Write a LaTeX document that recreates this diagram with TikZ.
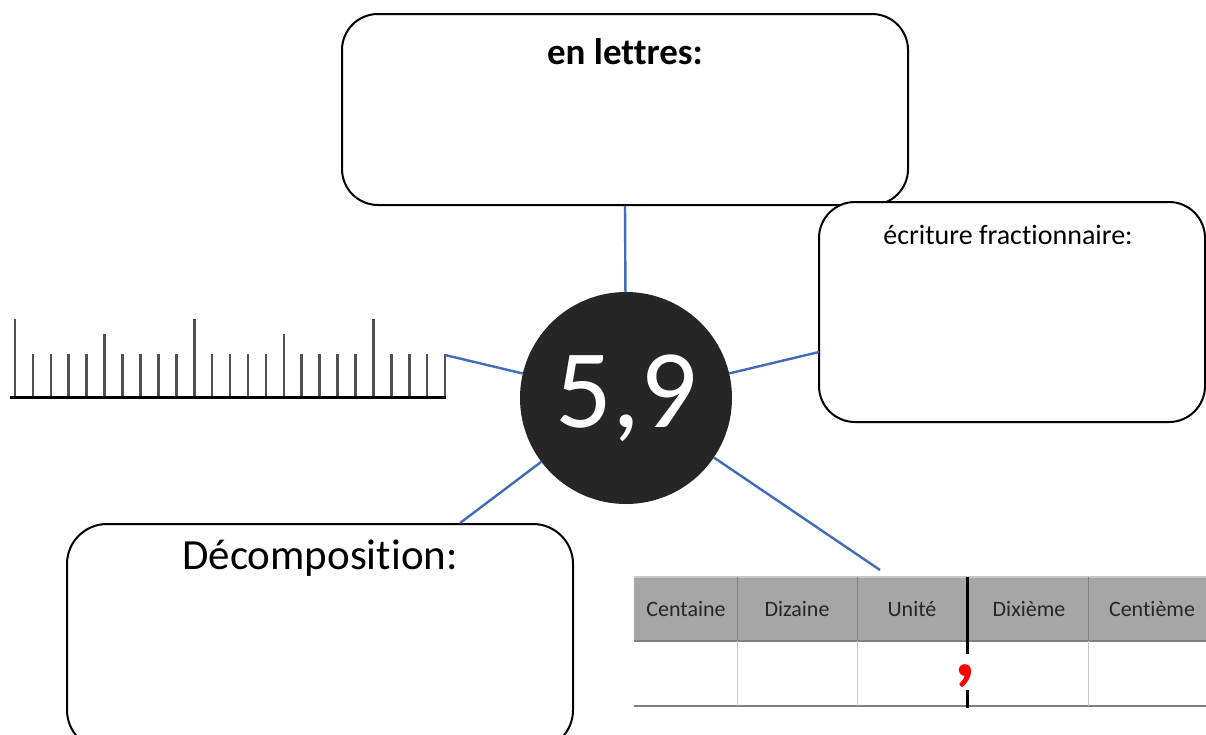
\documentclass[tikz,border=0pt]{standalone}
\usepackage{fontspec}
\setmainfont{Carlito}[Ligatures=NoCommon]
\definecolor{conncol}{RGB}{64,108,186}
\definecolor{circfill}{RGB}{38,38,38}
\definecolor{hdrfill}{RGB}{166,166,166}
\definecolor{hdrline}{RGB}{128,128,128}
\definecolor{bodyline}{RGB}{200,200,200}
\definecolor{tickcol}{RGB}{80,80,80}
\tikzset{
  rbox/.style={draw=black, line width=2pt, rounded corners=36pt, fill=white, inner sep=0pt},
  conn/.style={draw=conncol, line width=2.4pt},
  lbl/.style={inner sep=0pt, text=black},
  hdrtxt/.style={inner sep=0pt, text=black!85, font=\fontsize{22}{26}\selectfont},
}
\begin{document}
\begin{tikzpicture}[x=1pt,y=-1pt]
\clip (0,0) rectangle (1206,734);
\fill[white] (0,0) rectangle (1206,734);
% boxes
\node[rbox, minimum width=566pt, minimum height=191pt] (top) at (625,109.5) {};
\node[rbox, minimum width=386pt, minimum height=220pt] (right) at (1012,312) {};
\node[rbox, minimum width=506pt, minimum height=226pt, rounded corners=40pt] (dec) at (320,637) {};
\node[lbl, font=\bfseries\fontsize{37}{42}\selectfont] (toplbl) at (625,52) {en lettres:};
\node[lbl, font=\fontsize{28}{32}\selectfont] (rightlbl) at (1008,235) {écriture fractionnaire:};
\node[lbl, font=\fontsize{43}{48}\selectfont] (declbl) at (320,558) {Décomposition:};
% circle
\node[circle, fill=circfill, minimum size=212pt, inner sep=0pt, text=white,
      font=\fontsize{112}{114}\selectfont] (c) at (626,398) {5,9};
% ruler
\draw[black, line width=3pt] (10,397) -- (446,397);
\foreach \i in {0,...,24}{
  \pgfmathtruncatemacro{\mten}{mod(\i,10)}
  \pgfmathtruncatemacro{\mfive}{mod(\i,5)}
  \pgfmathsetmacro{\tx}{15+\i*17.92}
  \ifnum\mten=0 \def\ty{319}\else\ifnum\mfive=0 \def\ty{334}\else\def\ty{354}\fi\fi
  \draw[tickcol, line width=2.6pt] (\tx,396) -- (\tx,\ty);
}
\coordinate (rulerend) at (445,355);
% table
\fill[hdrfill] (634,577) rectangle (1206,641);
\draw[bodyline, line width=1.2pt] (634,577) -- (1206,577);
\draw[hdrline, line width=1.2pt] (634,641) -- (1206,641);
\draw[hdrline, line width=1.5pt] (634,706) -- (1206,706);
\foreach \vx in {737,857,1088}{
  \draw[hdrline, line width=1pt] (\vx,577) -- (\vx,641);
  \draw[bodyline, line width=1pt] (\vx,641) -- (\vx,706);
}
\draw[black, line width=3pt] (967,577) -- (967,654);
\draw[black, line width=3pt] (967,690) -- (967,708);
\node[hdrtxt] (h1) at (686,609) {Centaine};
\node[hdrtxt] (h2) at (797,609) {Dizaine};
\node[hdrtxt] (h3) at (912,609) {Unité};
\node[hdrtxt] (h4) at (1029,609) {Dixième};
\node[hdrtxt] (h5) at (1152,609) {Centième};
\node[inner sep=0pt, anchor=base, text=red, font=\bfseries\fontsize{84}{84}\selectfont] (comma) at (965,676) {,};
% connector end points
\coordinate (rc) at (819,352);
\coordinate (dc) at (460,523);
\coordinate (tc) at (880,570);
% connectors
\draw[conn] (top.south) -- (c);
\draw[conn] (rulerend) -- (c);
\draw[conn] (c) -- (rc);
\draw[conn] (c) -- (dc);
\draw[conn] (c) -- (tc);
\end{tikzpicture}
\end{document}
